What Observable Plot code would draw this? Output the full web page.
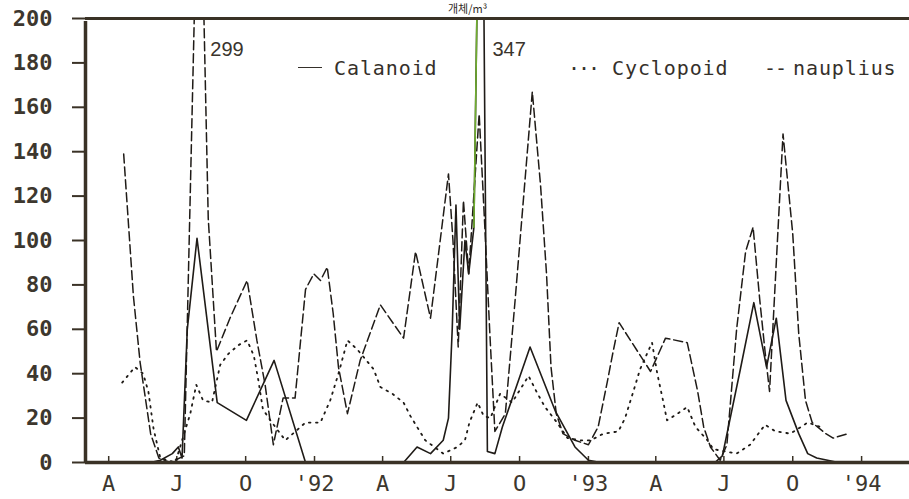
<!DOCTYPE html>
<html>
<head>
<meta charset="utf-8">
<script src="https://cdn.jsdelivr.net/npm/d3@7"></script>
<script src="https://cdn.jsdelivr.net/npm/@observablehq/plot@0.6"></script>
<style>
  body { margin: 0; background: #fff; }
  #wrap { position: relative; width: 909px; height: 499px; overflow: hidden; }
  .leg { position: absolute; top: 56px; font-family: "DejaVu Sans Mono", monospace; font-size: 20px;
         letter-spacing: 0.9px; color: #35302a; white-space: pre; }
  .sym { position: absolute; top: 56px; font-family: "DejaVu Sans Mono", monospace; font-size: 20px;
         color: #35302a; white-space: pre; }
  .bar { position: absolute; top: 67px; height: 0; border-top: 1.6px solid #35302a; }
  #title { position: absolute; top: 2px; left: 448px; font-family: "Noto Sans CJK KR", sans-serif;
           font-size: 11px; line-height: 13px; color: #2f2a24; white-space: pre; }
</style>
</head>
<body>
<div id="wrap">
  <div id="title">개체/m³</div>
  <div class="bar" style="left:298px;width:24px"></div>
  <div class="leg" style="left:334px">Calanoid</div>
  <div class="sym" style="left:568px;letter-spacing:-2px">···</div>
  <div class="leg" style="left:612px">Cyclopoid</div>
  <div class="sym" style="left:764px;letter-spacing:-1px">--</div>
  <div class="leg" style="left:793px">nauplius</div>
</div>
<script>
// Copepod densities, sampled 1991–1993
const calanoidDates = ["1991-04-21","1991-05-27","1991-06-09","1991-06-25","1991-07-03","1991-07-08","1991-07-15","1991-07-28","1991-08-24","1991-10-02","1991-11-08","1991-12-20","1992-04-29","1992-05-17","1992-06-04","1992-06-21","1992-06-28","1992-07-03","1992-07-08","1992-07-13","1992-07-20","1992-07-25","1992-08-01","1992-08-11","1992-08-19","1992-08-29","1992-09-08","1992-10-15","1992-11-18","1992-12-14","1993-01-01","1993-01-17","1993-06-19","1993-06-29","1993-07-23","1993-08-10","1993-08-27","1993-09-09","1993-09-22","1993-10-09","1993-10-21","1993-11-02","1993-12-01","1993-12-14"];
const calanoidValues = [0,0,1,4,7,2,60,101,27,19,46,0,0,7,4,10,20,60,116,60,100,85,106,347,5,4,16,52,23,7,1,0,0,3,42,72,43,65,28,13,4,2,0,0];

const cyclopoidDates = ["1991-04-19","1991-05-06","1991-05-17","1991-05-24","1991-05-31","1991-06-09","1991-06-29","1991-07-19","1991-07-27","1991-08-05","1991-08-17","1991-08-28","1991-09-08","1991-09-22","1991-10-03","1991-10-12","1991-10-18","1991-10-24","1991-11-03","1991-11-23","1991-12-20","1992-01-09","1992-01-22","1992-02-02","1992-02-14","1992-02-27","1992-03-20","1992-03-29","1992-04-14","1992-04-29","1992-05-08","1992-05-28","1992-06-21","1992-07-10","1992-07-20","1992-07-26","1992-08-06","1992-08-14","1992-08-23","1992-09-05","1992-09-21","1992-10-13","1992-10-25","1992-11-04","1992-11-20","1992-12-04","1992-12-21","1993-01-04","1993-01-21","1993-02-10","1993-02-19","1993-03-02","1993-03-11","1993-03-27","1993-04-03","1993-04-10","1993-04-16","1993-04-30","1993-05-13","1993-05-24","1993-06-09","1993-06-17","1993-07-18","1993-08-05","1993-08-25","1993-09-08","1993-09-28","1993-10-21","1993-11-07"];
const cyclopoidValues = [36,43,40,32,15,2,0,22,35,28,27,44,49,53,55,48,37,24,19,10,18,18,28,40,55,51,42,34,31,27,21,10,4,7,10,18,27,21,20,31,27,39,31,25,18,11,10,10,13,14,20,32,42,54,40,29,19,22,25,16,10,6,4,8,17,14,13,18,16];

const naupliusDates = ["1991-04-21","1991-05-04","1991-05-13","1991-05-27","1991-06-07","1991-06-22","1991-07-11","1991-07-31","1991-08-12","1991-08-23","1991-09-10","1991-10-03","1991-10-16","1991-10-27","1991-11-07","1991-11-20","1991-12-06","1991-12-20","1991-12-31","1992-01-09","1992-01-18","1992-01-26","1992-02-02","1992-02-14","1992-03-02","1992-03-29","1992-04-29","1992-05-15","1992-06-04","1992-06-28","1992-07-04","1992-07-11","1992-07-18","1992-07-25","1992-08-08","1992-08-15","1992-08-22","1992-08-29","1992-09-12","1992-09-25","1992-10-18","1992-10-29","1992-11-06","1992-11-12","1992-11-19","1992-11-28","1992-12-14","1993-01-01","1993-01-14","1993-01-26","1993-02-03","1993-02-11","1993-03-25","1993-04-14","1993-05-13","1993-05-27","1993-06-04","1993-06-13","1993-06-26","1993-07-05","1993-07-18","1993-07-30","1993-08-09","1993-08-18","1993-08-25","1993-08-31","1993-09-09","1993-09-18","1993-10-01","1993-10-09","1993-10-18","1993-10-27","1993-11-14","1993-11-24","1993-12-14"];
const naupliusValues = [139,75,45,13,2,0,3,299,110,50,65,82,55,35,8,29,29,78,85,82,88,67,43,22,46,71,56,95,65,130,100,52,118,85,157,110,60,14,22,73,167,125,85,43,22,13,10,8,16,36,50,63,41,56,54,32,16,7,1,8,60,95,106,73,50,32,90,148,103,58,28,18,13,11,13];

// Axis ticks: quarter starts, labelled by month initial or year
const xTickDates = ["1991-04-01","1991-07-01","1991-10-01","1992-01-01","1992-04-01","1992-07-01","1992-10-01","1993-01-01","1993-04-01","1993-07-01","1993-10-01","1994-01-01"];
const xTickLabels = ["A","J","O","'92","A","J","O","'93","A","J","O","'94"];
const yTicks = [0,20,40,60,80,100,120,140,160,180,200];
const xDomain = ["1991-03-01","1994-03-06"];
const yDomain = [0, 200];

// The calanoid rise that is drawn in green
const greenSpan = ["1992-08-01","1992-08-11"];

const rows = (dates, values) => dates.map((d, i) => ({date: new Date(d), value: values[i]}));
const calanoid = rows(calanoidDates, calanoidValues);
const cyclopoid = rows(cyclopoidDates, cyclopoidValues);
const nauplius = rows(naupliusDates, naupliusValues);

const allSeries = [...calanoid, ...nauplius];
const offScale = allSeries.filter(d => d.value > yDomain[1]);
const greenPart = calanoid.filter(d => d.date >= new Date(greenSpan[0]) && d.date <= new Date(greenSpan[1]));

const tickTimes = xTickDates.map(d => new Date(d));
const labelOf = new Map(tickTimes.map((d, i) => [d.getTime(), xTickLabels[i]]));
const xStart = new Date(xDomain[0]);

const ink = "#1f1b17";
const axisInk = "#3a3226";

const chart = Plot.plot({
  width: 909,
  height: 499,
  marginLeft: 85,
  marginRight: 0,
  marginTop: 18,
  marginBottom: 37,
  style: {background: "#fff", color: axisInk, overflow: "visible"},
  x: {type: "utc", domain: xDomain.map(d => new Date(d))},
  y: {domain: yDomain},
  marks: [
    // tick labels
    Plot.axisY(yTicks, {tickSize: 0, tickPadding: 33, label: null,
      fontFamily: "DejaVu Sans Mono", fontSize: 22, fontWeight: "bold", fill: "#3d372e"}),
    Plot.axisX(tickTimes, {tickSize: 0, tickPadding: 13, label: null, tickFormat: d => labelOf.get(d.getTime()),
      fontFamily: "DejaVu Sans Mono", fontSize: 22, fill: "#3d372e"}),
    // tick marks: outward on y, inward on x
    Plot.ruleY(yTicks, {y: d => d, x1: xStart, x2: xStart, insetLeft: -13, stroke: axisInk, strokeWidth: 2}),
    Plot.ruleX(tickTimes, {x: d => d, y1: yDomain[0], y2: yDomain[0], insetTop: -6, stroke: axisInk, strokeWidth: 1.5}),
    Plot.line(cyclopoid, {x: "date", y: "value", stroke: ink, strokeWidth: 1.8,
      strokeDasharray: "1.6,5.5", clip: true}),
    Plot.line(nauplius, {x: "date", y: "value", stroke: ink, strokeWidth: 1.5,
      strokeDasharray: "9,4", clip: true}),
    Plot.line(calanoid, {x: "date", y: "value", stroke: ink, strokeWidth: 1.6, clip: true}),
    Plot.line(greenPart, {x: "date", y: "value", stroke: "#6fae2e", strokeWidth: 1.6, clip: true}),
    Plot.text(offScale, {x: "date", frameAnchor: "top", text: d => String(d.value), textAnchor: "start",
      dx: 11, dy: 23, fontFamily: "Liberation Sans", fontSize: 20, fill: "#3a342c"}),
    Plot.ruleY([yDomain[0]], {stroke: axisInk, strokeWidth: 3.5}),
    Plot.ruleY([yDomain[1]], {stroke: axisInk, strokeWidth: 3}),
    Plot.ruleX([xStart], {stroke: axisInk, strokeWidth: 3.5, y1: yDomain[0], y2: yDomain[1], insetBottom: -3})
  ]
});

document.getElementById("wrap").prepend(chart);
</script>
</body>
</html>
